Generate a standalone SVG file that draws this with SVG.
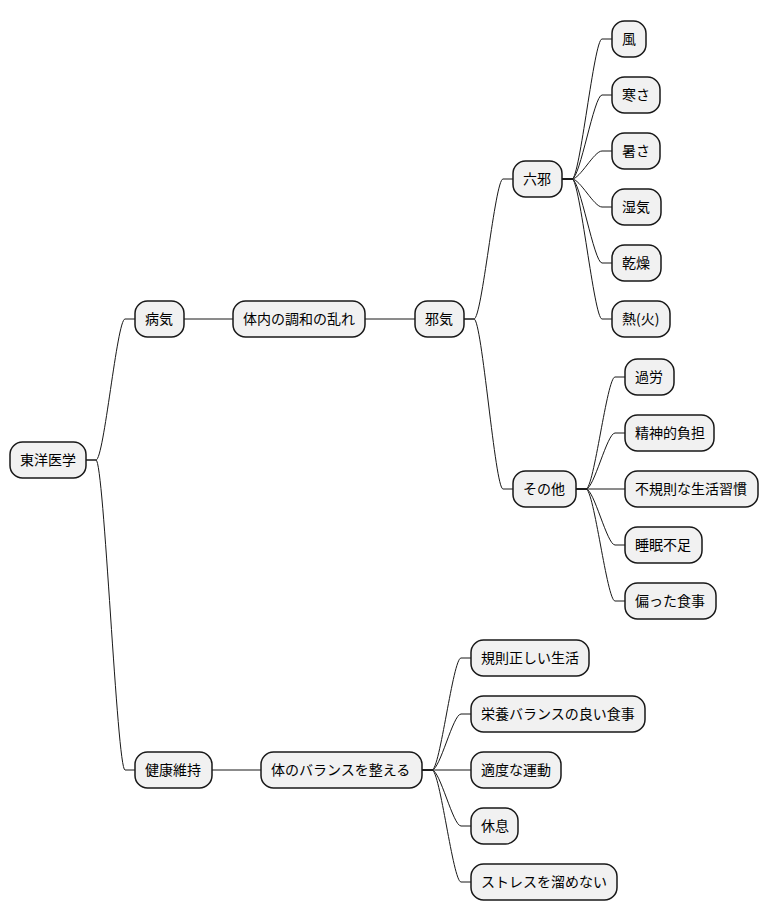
<svg xmlns="http://www.w3.org/2000/svg" width="768" height="921" viewBox="0 0 768 921">
<style>
.n rect{fill:#F1F1F1;stroke:#181818;stroke-width:1.5}
.n text{font-family:"Noto Sans CJK JP","Noto Sans",sans-serif;font-size:14px;fill:#000}
.c path{fill:none;stroke:#181818;stroke-width:1}
</style>
<rect width="768" height="921" fill="#FFFFFF"/>
<g class="c" id="connectors">
<path d="M86,460 L96,460 C104,460 117,319 125,319 L135,319"/>
<path d="M86,460 L96,460 C104,460 117,770 125,770 L135,770"/>
<path d="M184,319 L233,319"/>
<path d="M365,319 L415,319"/>
<path d="M464,319 L474,319 C482,319 495,179 503,179 L513,179"/>
<path d="M464,319 L474,319 C482,319 495,489 503,489 L513,489"/>
<path d="M562,179 L572,179 C580,179 594,39 602,39 L612,39"/>
<path d="M562,179 L572,179 C580,179 594,95 602,95 L612,95"/>
<path d="M562,179 L572,179 C580,179 594,151 602,151 L612,151"/>
<path d="M562,179 L572,179 C580,179 594,207 602,207 L612,207"/>
<path d="M562,179 L572,179 C580,179 594,263 602,263 L612,263"/>
<path d="M562,179 L572,179 C580,179 594,319 602,319 L612,319"/>
<path d="M576,489 L586,489 C594,489 607,377 615,377 L625,377"/>
<path d="M576,489 L586,489 C594,489 607,433 615,433 L625,433"/>
<path d="M576,489 L625,489"/>
<path d="M576,489 L586,489 C594,489 607,545 615,545 L625,545"/>
<path d="M576,489 L586,489 C594,489 607,601 615,601 L625,601"/>
<path d="M212,770 L261,770"/>
<path d="M422,770 L432,770 C440,770 453,658 461,658 L471,658"/>
<path d="M422,770 L432,770 C440,770 453,714 461,714 L471,714"/>
<path d="M422,770 L471,770"/>
<path d="M422,770 L432,770 C440,770 453,826 461,826 L471,826"/>
<path d="M422,770 L432,770 C440,770 453,882 461,882 L471,882"/>
</g>
<g class="n" id="n-root"><rect x="10" y="442" width="76" height="36" rx="12.5"/><text x="20" y="465">東洋医学</text></g>
<g class="n" id="n-byoki"><rect x="135" y="301" width="49" height="36" rx="12.5"/><text x="145" y="324">病気</text></g>
<g class="n" id="n-tainai"><rect x="233" y="301" width="132" height="36" rx="12.5"/><text x="243" y="324">体内の調和の乱れ</text></g>
<g class="n" id="n-jaki"><rect x="415" y="301" width="49" height="36" rx="12.5"/><text x="425" y="324">邪気</text></g>
<g class="n" id="n-rokuja"><rect x="513" y="161" width="49" height="36" rx="12.5"/><text x="523" y="184">六邪</text></g>
<g class="n" id="n-kaze"><rect x="612" y="21" width="34" height="36" rx="12.5"/><text x="622" y="44">風</text></g>
<g class="n" id="n-samusa"><rect x="612" y="77" width="48" height="36" rx="12.5"/><text x="622" y="100">寒さ</text></g>
<g class="n" id="n-atsusa"><rect x="612" y="133" width="48" height="36" rx="12.5"/><text x="622" y="156">暑さ</text></g>
<g class="n" id="n-shikke"><rect x="612" y="189" width="49" height="36" rx="12.5"/><text x="622" y="212">湿気</text></g>
<g class="n" id="n-kanso"><rect x="612" y="245" width="49" height="36" rx="12.5"/><text x="622" y="268">乾燥</text></g>
<g class="n" id="n-netsu"><rect x="612" y="301" width="58" height="36" rx="12.5"/><text x="622" y="324">熱(火)</text></g>
<g class="n" id="n-sonota"><rect x="513" y="471" width="63" height="36" rx="12.5"/><text x="523" y="494">その他</text></g>
<g class="n" id="n-karo"><rect x="625" y="359" width="49" height="36" rx="12.5"/><text x="635" y="382">過労</text></g>
<g class="n" id="n-seishin"><rect x="625" y="415" width="89" height="36" rx="12.5"/><text x="635" y="438">精神的負担</text></g>
<g class="n" id="n-fukisoku"><rect x="625" y="471" width="133" height="36" rx="12.5"/><text x="635" y="494">不規則な生活習慣</text></g>
<g class="n" id="n-suimin"><rect x="625" y="527" width="77" height="36" rx="12.5"/><text x="635" y="550">睡眠不足</text></g>
<g class="n" id="n-katayotta"><rect x="625" y="583" width="91" height="36" rx="12.5"/><text x="635" y="606">偏った食事</text></g>
<g class="n" id="n-kenko"><rect x="135" y="752" width="77" height="36" rx="12.5"/><text x="145" y="775">健康維持</text></g>
<g class="n" id="n-karada"><rect x="261" y="752" width="161" height="36" rx="12.5"/><text x="271" y="775">体のバランスを整える</text></g>
<g class="n" id="n-kisoku"><rect x="471" y="640" width="118" height="36" rx="12.5"/><text x="481" y="663">規則正しい生活</text></g>
<g class="n" id="n-eiyo"><rect x="471" y="696" width="174" height="36" rx="12.5"/><text x="481" y="719">栄養バランスの良い食事</text></g>
<g class="n" id="n-tekido"><rect x="471" y="752" width="90" height="36" rx="12.5"/><text x="481" y="775">適度な運動</text></g>
<g class="n" id="n-kyusoku"><rect x="471" y="808" width="47" height="36" rx="12.5"/><text x="481" y="831">休息</text></g>
<g class="n" id="n-stress"><rect x="471" y="864" width="146" height="36" rx="12.5"/><text x="481" y="887">ストレスを溜めない</text></g>
</svg>
